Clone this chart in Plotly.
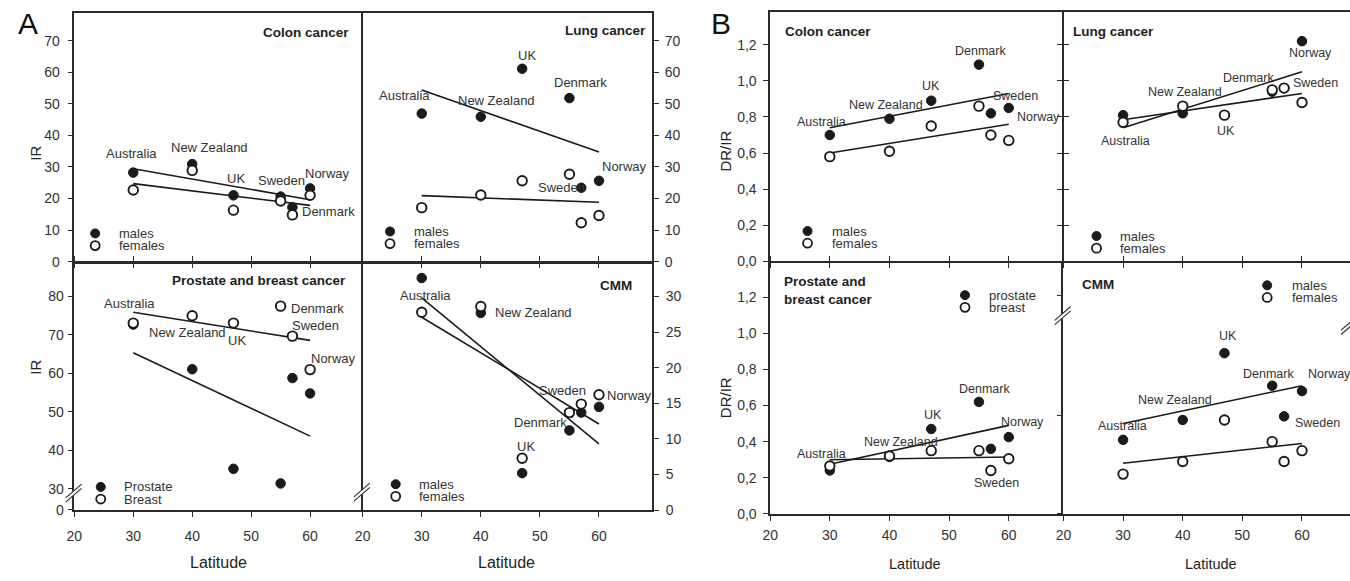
import plotly.graph_objects as go

# ---------------- data ----------------
LAT = [30, 40, 47, 55, 57, 60]
COUNTRIES = ["Australia", "New Zealand", "UK", "Denmark", "Sweden", "Norway"]
TREND_LAT = [30, 60]

# Panel A: incidence rates (IR)
A_COLON_M = [28.2, 30.9, 21.0, 20.6, 17.2, 23.2]
A_COLON_F = [22.7, 28.9, 16.3, 19.2, 14.8, 21.0]
A_COLON_TM = [29.4, 19.6]
A_COLON_TF = [24.7, 17.8]

A_LUNG_M = [46.9, 45.9, 61.1, 51.8, 23.4, 25.6]
A_LUNG_F = [17.1, 21.1, 25.6, 27.7, 12.3, 14.6]
A_LUNG_TM = [54.4, 34.7]
A_LUNG_TF = [20.9, 18.8]

A_PROSTATE = [72.7, 61.1, 35.2, 31.4, 58.8, 54.8]
A_BREAST = [73.1, 75.0, 73.1, 77.5, 69.7, 61.0]
A_PROSTATE_T = [65.4, 43.7]
A_BREAST_T = [75.9, 68.6]

A_CMM_M = [32.6, 27.7, 5.2, 11.2, 13.7, 14.5]
A_CMM_F = [27.8, 28.6, 7.3, 13.7, 14.9, 16.2]
A_CMM_TM = [29.8, 9.3]
A_CMM_TF = [27.1, 12.1]

# Panel B: DR/IR ratios
B_COLON_M = [0.70, 0.79, 0.89, 1.09, 0.82, 0.85]
B_COLON_F = [0.58, 0.61, 0.75, 0.86, 0.70, 0.67]
B_COLON_TM = [0.74, 0.93]
B_COLON_TF = [0.60, 0.76]

B_LUNG_M = [0.81, 0.82, None, 0.94, 0.96, 1.22]
B_LUNG_F = [0.77, 0.86, 0.81, 0.95, 0.96, 0.88]
B_LUNG_TM = [0.74, 1.05]
B_LUNG_TF = [0.785, 0.93]

B_PROSTATE = [0.24, 0.315, 0.47, 0.62, 0.36, 0.425]
B_BREAST = [0.265, 0.32, 0.35, 0.35, 0.24, 0.305]
B_PROSTATE_T = [0.275, 0.49]
B_BREAST_T = [0.30, 0.315]

B_CMM_M = [0.41, 0.52, 0.89, 0.71, 0.54, 0.68]
B_CMM_F = [0.22, 0.29, 0.52, 0.40, 0.29, 0.35]
B_CMM_TM = [0.50, 0.71]
B_CMM_TF = [0.28, 0.39]

A_TICKS_IR = [0, 10, 20, 30, 40, 50, 60, 70]
A_TICKS_PB = [30, 40, 50, 60, 70, 80]
A_TICKS_CMM = [0, 5, 10, 15, 20, 25, 30]
B_TICKS = [0, 0.2, 0.4, 0.6, 0.8, 1.0, 1.2]

# ---------------- layout helpers ----------------
W, H = 1350, 581
FONT = "Liberation Sans, Arial, sans-serif"
INK = "#1a1a1a"
AX = "#2a2a2a"
LW = 1.5
HG = LW / 2  # half gap so that adjacent frame lines coincide


def px(x):
    return x / W


def py(y):
    return 1 - y / H


fig = go.Figure()

# label offsets: country -> (series ref, dx, dy) in screen pixels
LABELS = {
    1: {"Australia": ("m", -2, -19), "New Zealand": ("m", 17, -17), "UK": ("m", 3, -17),
        "Denmark": ("m", 48, 15), "Sweden": ("m", -11, -27), "Norway": ("m", 17, -15)},
    2: {"Australia": ("m", -17, -18), "New Zealand": ("m", 16, -16), "UK": ("m", 5, -13),
        "Denmark": ("m", 11, -16), "Sweden": ("m", -20, 0), "Norway": ("m", 26, -14)},
    3: {"Australia": ("f", -4, -20), "New Zealand": ("f", -5, 17), "UK": ("f", 4, 17),
        "Denmark": ("f", 37, 2), "Sweden": ("f", 23, -11), "Norway": ("f", 23, -11)},
    4: {"Australia": ("f", 4, -17), "New Zealand": ("m", 53, 0), "UK": ("f", 4, -12),
        "Denmark": ("m", -29, -8), "Sweden": ("f", -19, -14), "Norway": ("f", 31, 1)},
    5: {"Australia": ("m", -8, -13), "New Zealand": ("m", -3, -14), "UK": ("m", 0, -15),
        "Denmark": ("m", 2, -14), "Sweden": ("m", 25, -17), "Norway": ("m", 30, 9)},
    6: {"Australia": ("f", 2, 19), "New Zealand": ("f", 2, -14), "UK": ("f", 2, 16),
        "Denmark": ("f", -24, -12), "Sweden": ("f", 31, -5), "Norway": ("m", 9, 12)},
    7: {"Australia": ("f", -8, -12), "New Zealand": ("f", 12, -14), "UK": ("m", 2, -14),
        "Denmark": ("m", 6, -13), "Sweden": ("f", 6, 12), "Norway": ("m", 14, -15)},
    8: {"Australia": ("m", -1, -14), "New Zealand": ("m", -8, -20), "UK": ("m", 4, -17),
        "Denmark": ("m", -4, -12), "Sweden": ("m", 33, 7), "Norway": ("m", 28, -17)},
}

PANELS = [
    (1, A_COLON_M, A_COLON_F, A_COLON_TM, A_COLON_TF),
    (2, A_LUNG_M, A_LUNG_F, A_LUNG_TM, A_LUNG_TF),
    (3, A_PROSTATE, A_BREAST, A_PROSTATE_T, A_BREAST_T),
    (4, A_CMM_M, A_CMM_F, A_CMM_TM, A_CMM_TF),
    (5, B_COLON_M, B_COLON_F, B_COLON_TM, B_COLON_TF),
    (6, B_LUNG_M, B_LUNG_F, B_LUNG_TM, B_LUNG_TF),
    (7, B_PROSTATE, B_BREAST, B_PROSTATE_T, B_BREAST_T),
    (8, B_CMM_M, B_CMM_F, B_CMM_TM, B_CMM_TF),
]

annotations = []
LABEL_SIZE = {1: 13, 2: 13, 3: 13, 4: 13, 5: 12.5, 6: 12.5, 7: 12.5, 8: 12.5}

for k, m, f, tm, tf in PANELS:
    xa = "x" if k == 1 else f"x{k}"
    ya = "y" if k == 1 else f"y{k}"
    for tr in (tm, tf):
        fig.add_trace(go.Scatter(x=TREND_LAT, y=tr, mode="lines", xaxis=xa, yaxis=ya,
                                 line=dict(color=INK, width=1.6), showlegend=False,
                                 hoverinfo="skip"))
    fig.add_trace(go.Scatter(x=LAT, y=m, mode="markers", xaxis=xa, yaxis=ya,
                             marker=dict(size=9.5, color=INK, line=dict(color=INK, width=1)),
                             showlegend=False))
    fig.add_trace(go.Scatter(x=LAT, y=f, mode="markers", xaxis=xa, yaxis=ya,
                             marker=dict(size=9.5, color="white", line=dict(color=INK, width=1.9)),
                             showlegend=False))
    for i, c in enumerate(COUNTRIES):
        ref, dx, dy = LABELS[k][c]
        yv = m[i] if ref == "m" else f[i]
        annotations.append(dict(x=LAT[i], y=yv, xref=xa, yref=ya, text=c, showarrow=False,
                                xshift=dx, yshift=-dy, xanchor="center", yanchor="middle",
                                font=dict(family=FONT, size=LABEL_SIZE[k], color="#333")))

# ---------------- axes ----------------
def base_axis(**kw):
    d = dict(showgrid=False, zeroline=False, showline=True, linecolor=AX, linewidth=LW,
             ticks="outside", ticklen=5, tickwidth=1.4, tickcolor=AX,
             tickfont=dict(family=FONT, size=14, color="#333"))
    d.update(kw)
    return d

# frame positions in pixels
AXL, AXM, AXR = 66.7, 356.0, 648.0
AYT, AYM, AYB = 13.3, 266.0, 517.3
BXL, BXM, BXR = 766.7, 1061.0, 1350.0
BYT, BYM, BYB = 12.3, 265.7, 521.0

lay = {}
# A panel x axes
A_XSPEC = {1: (AXL, AXM - HG, [20, 68.66], True), 2: (AXM + HG, AXR, [20.0, 69.0], True),
           3: (AXL, AXM - HG, [20, 68.66], False), 4: (AXM + HG, AXR, [20.0, 69.0], False)}
for k, (x0, x1, xr, top) in A_XSPEC.items():
    name = "xaxis" if k == 1 else f"xaxis{k}"
    lay[name] = base_axis(domain=[px(x0), px(x1)], range=xr, tick0=20, dtick=10,
                          anchor="y" if k == 1 else f"y{k}",
                          showticklabels=not top, mirror=True if top else "ticks",
                          ticklabelstandoff=7)
B_XSPEC = {5: (BXL, BXM - HG, [20, 68.92], True), 6: (BXM + HG, BXR, [20, 68.05], True),
           7: (BXL, BXM - HG, [20, 68.92], False), 8: (BXM + HG, BXR, [20, 68.05], False)}
for k, (x0, x1, xr, top) in B_XSPEC.items():
    lay[f"xaxis{k}"] = base_axis(domain=[px(x0), px(x1)], range=xr, tick0=20, dtick=10,
                                 anchor=f"y{k}", showticklabels=not top,
                                 mirror=True if top else "ticks", ticklabelstandoff=3)

lay["yaxis"] = base_axis(domain=[py(AYM - HG), py(AYT)], range=[0, 78.73], tickvals=A_TICKS_IR,
                         anchor="x", mirror=True, ticklabelstandoff=5)
lay["yaxis2"] = base_axis(domain=[py(AYM - HG), py(AYT)], range=[0, 78.73], tickvals=A_TICKS_IR,
                          anchor="x2", side="right", mirror=True, ticklabelstandoff=3)
BREAK_ZERO = 24.5
lay["yaxis3"] = base_axis(domain=[py(AYB), py(AYM + HG)], range=[24.45, 88.7],
                          tickvals=[BREAK_ZERO] + A_TICKS_PB,
                          ticktext=["0"] + [str(v) for v in A_TICKS_PB],
                          anchor="x3", mirror=True, ticklabelstandoff=1)
lay["yaxis4"] = base_axis(domain=[py(AYB), py(AYM + HG)], range=[0, 34.7], tickvals=A_TICKS_CMM,
                          anchor="x4", side="right", mirror=True, ticklabelstandoff=4)
lay["yaxis5"] = base_axis(domain=[py(BYM - HG), py(BYT)], range=[0, 1.381], tickvals=B_TICKS,
                          tickformat=".1f", anchor="x5", mirror="ticks", ticklabelstandoff=4)
lay["yaxis6"] = base_axis(domain=[py(BYM - HG), py(BYT)], range=[0, 1.381], tickvals=B_TICKS,
                          anchor="x6", showticklabels=False, showline=False, mirror=False)
lay["yaxis7"] = base_axis(domain=[py(BYB), py(BYM + HG)], range=[0, 1.391], tickvals=B_TICKS,
                          tickformat=".1f", anchor="x7", mirror=False, ticklabelstandoff=4)
lay["yaxis8"] = base_axis(domain=[py(BYB), py(BYM + HG)], range=[0, 1.391], tickvals=[0, 0.546, 1.207],
                          anchor="x8", showticklabels=False, mirror=False)

# ---------------- text: titles, axis titles ----------------
def txt(x, y, s, size, bold=False, xanchor="center", angle=0, color="#222"):
    annotations.append(dict(x=px(x), y=py(y), xref="paper", yref="paper", text=f"<b>{s}</b>" if bold else s,
                            showarrow=False, xanchor=xanchor, yanchor="middle", textangle=angle,
                            font=dict(family=FONT, size=size, color=color)))

txt(20, 24, "A", 30, color="#111")
txt(717, 24, "B", 30, color="#111")

txt(345, 33, "Colon cancer", 13.5, True, "right")
txt(644, 31, "Lung cancer", 13.5, True, "right")
txt(342, 284, "Prostate and breast cancer", 13.5, True, "right")
txt(630, 289, "CMM", 13.5, True, "right")
txt(780, 32, "Colon cancer", 13.5, True, "left")
txt(1069, 32, "Lung cancer", 13.5, True, "left")
annotations.append(dict(x=px(779), y=py(295), xref="paper", yref="paper",
                        text="<b>Prostate and<br>breast cancer</b>", showarrow=False, align="left",
                        xanchor="left", yanchor="middle",
                        font=dict(family=FONT, size=13.5, color="#222")))
txt(1078, 288, "CMM", 13.5, True, "left")

txt(28, 155, "IR", 15, angle=-90)
txt(28, 372, "IR", 15, angle=-90)
txt(722, 153, "DR/IR", 15, angle=-90)
txt(722, 403, "DR/IR", 15, angle=-90)
txt(212, 570, "Latitude", 16)
txt(501, 570, "Latitude", 16)
txt(912, 572, "Latitude", 14.5)
txt(1210, 572, "Latitude", 14.5)

# ---------------- legends (symbols as shapes + text) ----------------
shapes = []
LEGENDS = [
    (87.7, 236.7, 110, ("males", "females")),
    (384.3, 234.7, 406.7, ("males", "females")),
    (93.3, 493.7, 115, ("Prostate", "Breast")),
    (390, 491, 411.7, ("males", "females")),
    (804.3, 234.3, 826.7, ("males", "females")),
    (1095, 239.3, 1116.7, ("males", "females")),
    (962.7, 299.3, 985, ("prostate", "breast")),
    (1266.7, 289.3, 1289.3, ("males", "females")),
]
for mx, my, tx, names in LEGENDS:
    for j, nm in enumerate(names):
        yy = my + j * 12.3
        filled = j == 0
        shapes.append(dict(type="circle", xref="paper", yref="paper", xsizemode="pixel",
                           ysizemode="pixel", xanchor=px(mx), yanchor=py(yy),
                           x0=-4.5, x1=4.5, y0=-4.5, y1=4.5,
                           fillcolor=INK if filled else "white",
                           line=dict(color=INK, width=1 if filled else 1.8)))
        txt(tx, yy, nm, 13, xanchor="left", color="#333")

# ---------------- axis break marks ----------------
def break_mark(cx, cy):
    shapes.append(dict(type="line", xref="paper", yref="paper", x0=px(cx - 7), y0=py(cy + 6),
                       x1=px(cx + 7), y1=py(cy - 6), line=dict(color="white", width=4)))
    for off in (-2.2, 2.2):
        shapes.append(dict(type="line", xref="paper", yref="paper", x0=px(cx - 8), y0=py(cy + 7 + off),
                           x1=px(cx + 8), y1=py(cy - 7 + off), line=dict(color=AX, width=1.1)))

break_mark(66.0, 500)
break_mark(356.0, 499)
break_mark(1061.0, 320)
break_mark(1349, 330)

fig.update_layout(
    width=W, height=H, margin=dict(l=0, r=0, t=0, b=0), autosize=False,
    paper_bgcolor="white", plot_bgcolor="white", showlegend=False,
    separators=",.", annotations=annotations, shapes=shapes,
    font=dict(family=FONT, color="#222"), **lay,
)

fig.write_html("out.html")
